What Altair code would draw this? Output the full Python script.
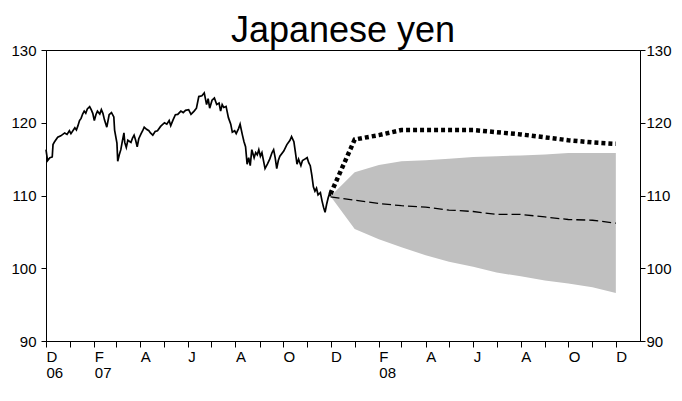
import altair as alt
import pandas as pd

# ---------------- data ----------------
title_text = "Japanese yen"

spot_dates = [
    "2006-12-01", "2006-12-03", "2006-12-06", "2006-12-09", "2006-12-10", "2006-12-12",
    "2006-12-16", "2006-12-20", "2006-12-25", "2006-12-28", "2006-12-31",
    "2007-01-02", "2007-01-07", "2007-01-09", "2007-01-11", "2007-01-13", "2007-01-15",
    "2007-01-17", "2007-01-19", "2007-01-21", "2007-01-23", "2007-01-26", "2007-01-28",
    "2007-01-30", "2007-02-01", "2007-02-03", "2007-02-05", "2007-02-08", "2007-02-10",
    "2007-02-12", "2007-02-14", "2007-02-17", "2007-02-20", "2007-02-23", "2007-02-26",
    "2007-02-27", "2007-03-02", "2007-03-03", "2007-03-05", "2007-03-07", "2007-03-09",
    "2007-03-11", "2007-03-12", "2007-03-14", "2007-03-16", "2007-03-20", "2007-03-22",
    "2007-03-24", "2007-03-26", "2007-03-28", "2007-03-30", "2007-04-02", "2007-04-04",
    "2007-04-06", "2007-04-09", "2007-04-12", "2007-04-14", "2007-04-17", "2007-04-20",
    "2007-04-23", "2007-04-27", "2007-05-02", "2007-05-05", "2007-05-08", "2007-05-10",
    "2007-05-13", "2007-05-16", "2007-05-19", "2007-05-23", "2007-05-26", "2007-05-29",
    "2007-06-02", "2007-06-05", "2007-06-09", "2007-06-12", "2007-06-15", "2007-06-19",
    "2007-06-22", "2007-06-25", "2007-06-27", "2007-06-29", "2007-07-02", "2007-07-05",
    "2007-07-08", "2007-07-11", "2007-07-13", "2007-07-15", "2007-07-17", "2007-07-20",
    "2007-07-23", "2007-07-26", "2007-07-28", "2007-07-31", "2007-08-02", "2007-08-05",
    "2007-08-07", "2007-08-10", "2007-08-12", "2007-08-14", "2007-08-16", "2007-08-18",
    "2007-08-20", "2007-08-22", "2007-08-25", "2007-08-27", "2007-08-29", "2007-08-31",
    "2007-09-02", "2007-09-04", "2007-09-06", "2007-09-08", "2007-09-11", "2007-09-14",
    "2007-09-17", "2007-09-19", "2007-09-21", "2007-09-23", "2007-09-25", "2007-09-27",
    "2007-10-02", "2007-10-06", "2007-10-10", "2007-10-12", "2007-10-15", "2007-10-17",
    "2007-10-19", "2007-10-21", "2007-10-24", "2007-10-26", "2007-10-29", "2007-11-01",
    "2007-11-03", "2007-11-05", "2007-11-07", "2007-11-09", "2007-11-11", "2007-11-13",
    "2007-11-15", "2007-11-18", "2007-11-20", "2007-11-22", "2007-11-24", "2007-11-26",
    "2007-11-28", "2007-11-30", "2007-12-01",
]
spot_values = [
    116.3, 114.8, 115.2, 115.3, 117.0, 117.4,
    118.0, 118.2, 118.6, 118.4, 118.9,
    118.5, 119.3, 119.0, 119.6, 120.3, 120.6,
    121.2, 121.6, 121.3, 121.9, 122.2, 121.8,
    121.3, 120.3, 121.1, 121.6, 121.2, 121.8,
    121.3, 120.4, 119.4, 121.1, 121.4, 120.8,
    119.0, 117.2, 114.7, 115.6, 116.3, 117.5,
    118.6, 117.3, 116.6, 117.6, 117.3, 117.9,
    118.3, 117.6, 116.7, 117.8, 118.5, 118.9,
    119.4, 119.1, 118.9, 118.6, 118.3, 118.8,
    118.9, 119.5, 120.0, 119.8, 120.3, 119.6,
    120.4, 121.1, 121.15, 121.6, 121.4, 121.7,
    121.8, 121.15, 121.6, 122.0, 123.6, 123.7,
    124.1, 122.5, 123.3, 122.0, 123.1, 123.4,
    122.5, 122.7, 121.6, 122.5, 122.1, 122.25,
    120.7, 119.8, 118.7, 118.9, 118.5, 119.2,
    119.8, 118.3, 117.4, 116.7, 114.3, 115.2,
    114.1, 116.3, 115.2, 115.9, 115.6, 116.3,
    115.4, 115.9, 114.8, 113.7, 114.3, 115.0,
    115.9, 116.3, 115.2, 113.7, 114.8, 115.4,
    116.1, 117.0, 117.6, 118.1, 117.4, 115.9,
    114.3, 115.0, 114.1, 114.8, 115.0, 115.2,
    114.5, 114.1, 112.8, 111.2, 110.6, 111.0,
    110.1, 110.4, 109.3, 108.4, 107.7, 108.8,
    109.7, 110.4, 109.9,
]

fc_dates = [
    "2007-12-01", "2008-01-01", "2008-02-01", "2008-03-01", "2008-04-01", "2008-05-01",
    "2008-06-01", "2008-07-01", "2008-08-01", "2008-09-01", "2008-10-01", "2008-11-01",
    "2008-12-01",
]
fan_upper = [109.9, 113.2, 114.2, 114.7, 114.85, 115.05, 115.3, 115.4, 115.5, 115.65, 115.85, 115.85, 115.85]
fan_lower = [109.9, 105.4, 104.0, 102.9, 101.8, 100.9, 100.2, 99.4, 98.9, 98.3, 97.9, 97.4, 96.6]
median_fc = [109.8, 109.35, 108.9, 108.6, 108.4, 108.0, 107.8, 107.4, 107.4, 107.05, 106.7, 106.6, 106.2]
forward_fc = [110.2, 117.7, 118.3, 119.0, 119.0, 119.0, 119.0, 118.7, 118.4, 118.0, 117.6, 117.3, 117.1]

month_letters = ["J", "F", "M", "A", "M", "J", "J", "A", "S", "O", "N", "D"]
year_label_dates = ["2006-12-01", "2007-02-01", "2008-02-01"]   # where "06", "07", "08" sit
y_ticks = [90, 100, 110, 120, 130]

# ---------------- tables ----------------
spot = pd.DataFrame({"date": spot_dates, "value": spot_values})
fc = pd.DataFrame({"date": fc_dates, "upper": fan_upper, "lower": fan_lower,
                   "median": median_fc, "forward": forward_fc})

FONT = "Liberation Sans"


def dt(s):
    y, m, d = (int(p) for p in s.split("-"))
    return alt.DateTime(year=y, month=m, date=d, utc=True)


tick_values = [
    alt.DateTime(year=2006 + (11 + i) // 12, month=(11 + i) % 12 + 1, date=1, utc=True)
    for i in range(25)
]
letters = "[" + ",".join("'%s'" % m for m in month_letters) + "]"
m_expr = "utcmonth(datum.value)"
month_label_expr = f"{m_expr} % 2 == 1 ? {letters}[{m_expr}] : ''"

x_scale = alt.Scale(
    type="utc",
    domain=[alt.DateTime(year=2006, month=12, date=1, utc=True),
            alt.DateTime(year=2009, month=1, date=1, utc=True)],
)
x_axis = alt.Axis(
    orient="bottom", values=tick_values, labelExpr=month_label_expr, title=None, grid=False,
    tickSize=6, labelPadding=2, labelAlign="left", labelBaseline="top",
    labelOverlap=False, labelFlush=False,
)
year_axis = alt.Axis(
    orient="bottom", values=[dt(s) for s in year_label_dates],
    labelExpr="utcFormat(datum.value, '%y')", title=None, grid=False,
    ticks=False, tickSize=0, domain=False, labelPadding=24,
    labelAlign="left", labelBaseline="top", labelOverlap=False, labelFlush=False,
)
y_scale = alt.Scale(domain=[90, 130], nice=False, zero=False)
y_left = alt.Axis(orient="left", values=y_ticks, title=None, grid=False,
                  tickSize=5, labelPadding=5)
y_right = alt.Axis(orient="right", values=y_ticks, title=None, grid=False,
                   tickSize=5, labelPadding=1)

fan = alt.Chart(fc).mark_area(color="#c0c0c0", opacity=1).encode(
    x=alt.X("date:T", scale=x_scale, axis=x_axis),
    y=alt.Y("lower:Q", scale=y_scale, axis=y_left),
    y2="upper:Q",
)

median_line = alt.Chart(fc).mark_line(
    color="black", strokeWidth=1.3, strokeDash=[9, 4]
).encode(
    x=alt.X("date:T", scale=x_scale, axis=None),
    y=alt.Y("median:Q", scale=y_scale, axis=None),
)

forward_line = alt.Chart(fc).mark_line(
    color="black", strokeWidth=4.5, strokeDash=[4, 3], strokeCap="butt"
).encode(
    x=alt.X("date:T", scale=x_scale, axis=year_axis),
    y=alt.Y("forward:Q", scale=y_scale, axis=None),
)

spot_line = alt.Chart(spot).mark_line(color="black", strokeWidth=1.7).encode(
    x=alt.X("date:T", scale=x_scale, axis=None),
    y=alt.Y("value:Q", scale=y_scale, axis=y_right),
)

chart = (
    alt.layer(fan, median_line, forward_line, spot_line)
    .resolve_axis(x="independent", y="independent")
    .properties(
        width=594,
        height=291,
        autosize=alt.AutoSizeParams(type="none"),
        padding={"left": 38, "top": 42, "right": 34, "bottom": 41},
        title=alt.TitleParams(title_text, fontSize=36, font=FONT, fontWeight="normal",
                              anchor="middle", offset=1, dy=8, color="black"),
    )
    .configure_view(stroke="black", strokeWidth=1)
    .configure_axis(
        labelFont=FONT, labelFontSize=15, labelColor="black",
        domainColor="black", tickColor="black", domainWidth=1, tickWidth=1,
    )
)

chart.save("out.html", embed_options={"renderer": "svg", "actions": False})
